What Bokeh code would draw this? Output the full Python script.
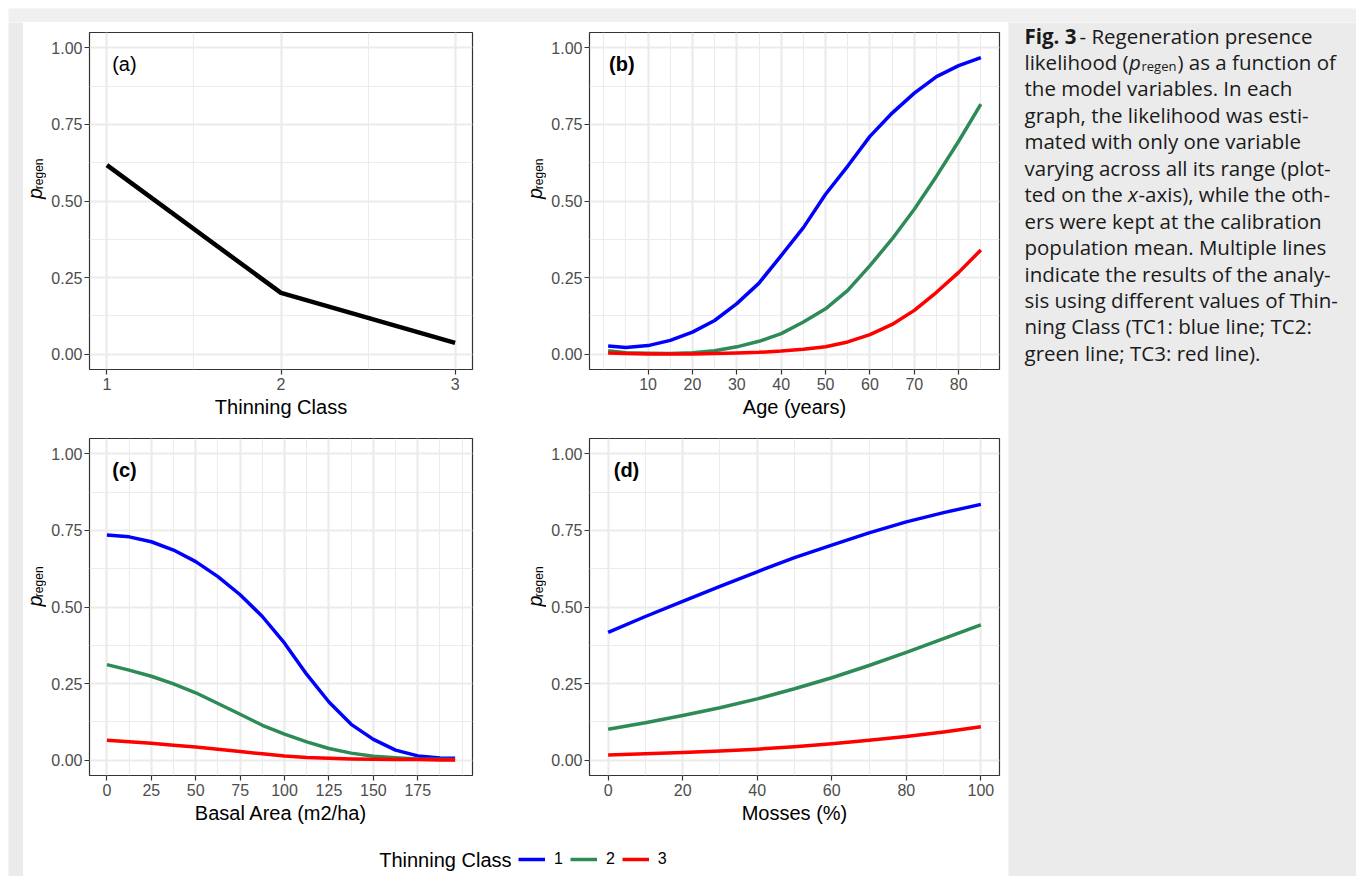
import math
import numpy as np
from bokeh.plotting import figure
from bokeh.layouts import column, row
from bokeh.models import Range1d, FixedTicker, Label, Legend, LegendItem
from bokeh.core.properties import value
from bokeh.embed import file_html
from bokeh.resources import INLINE

# ---------------- data ----------------
tc_classes = [1, 2, 3]
p_by_tc = [0.617, 0.200, 0.037]

age_years = [1, 5, 10, 15, 20, 25, 30, 35, 40, 45, 50, 55, 60, 65, 70, 75, 80, 85]
age_tc1 = [0.027, 0.022, 0.028, 0.045, 0.072, 0.110, 0.165, 0.232, 0.322, 0.413, 0.522, 0.614, 0.711, 0.787, 0.852, 0.906, 0.942, 0.968]
age_tc2 = [0.011, 0.005, 0.003, 0.002, 0.005, 0.011, 0.024, 0.042, 0.067, 0.105, 0.148, 0.208, 0.289, 0.376, 0.473, 0.581, 0.695, 0.816]
age_tc3 = [0.004, 0.002, 0.001, 0.001, 0.001, 0.002, 0.004, 0.006, 0.010, 0.016, 0.024, 0.040, 0.064, 0.097, 0.143, 0.202, 0.267, 0.340]

basal_area = [0, 12.5, 25, 37.5, 50, 62.5, 75, 87.5, 100, 112.5, 125, 137.5, 150, 162.5, 175, 187.5, 196]
ba_tc1 = [0.735, 0.729, 0.713, 0.686, 0.648, 0.599, 0.540, 0.469, 0.382, 0.280, 0.190, 0.117, 0.068, 0.033, 0.014, 0.007, 0.006]
ba_tc2 = [0.312, 0.294, 0.274, 0.249, 0.220, 0.185, 0.150, 0.114, 0.085, 0.060, 0.038, 0.023, 0.013, 0.008, 0.004, 0.003, 0.002]
ba_tc3 = [0.065, 0.060, 0.055, 0.049, 0.043, 0.036, 0.028, 0.021, 0.014, 0.009, 0.006, 0.004, 0.003, 0.002, 0.002, 0.001, 0.001]

mosses = [0, 10, 20, 30, 40, 50, 60, 70, 80, 90, 100]
mo_tc1 = [0.417, 0.469, 0.518, 0.567, 0.615, 0.661, 0.702, 0.742, 0.778, 0.808, 0.835]
mo_tc2 = [0.101, 0.122, 0.146, 0.171, 0.200, 0.233, 0.269, 0.309, 0.352, 0.397, 0.442]
mo_tc3 = [0.017, 0.021, 0.025, 0.030, 0.036, 0.044, 0.054, 0.065, 0.077, 0.092, 0.109]

series_names = ["1", "2", "3"]
series_colors = ["#0000ff", "#2e8b57", "#ff0000"]

y_ticks = [0, 0.25, 0.5, 0.75, 1.0]
y_tick_labels = ["0.00", "0.25", "0.50", "0.75", "1.00"]
y_minor = [0.125, 0.375, 0.625, 0.875]

a_ticks, a_labels, a_minor = [1, 2, 3], ["1", "2", "3"], [1.5, 2.5]
b_ticks = [10, 20, 30, 40, 50, 60, 70, 80]
b_labels = ["10", "20", "30", "40", "50", "60", "70", "80"]
b_minor = [0, 5, 15, 25, 35, 45, 55, 65, 75, 85]
c_ticks = [0, 25, 50, 75, 100, 125, 150, 175]
c_labels = ["0", "25", "50", "75", "100", "125", "150", "175"]
c_minor = [12.5, 37.5, 62.5, 87.5, 112.5, 137.5, 162.5, 187.5, 200]
d_ticks = [0, 20, 40, 60, 80, 100]
d_labels = ["0", "20", "40", "60", "80", "100"]
d_minor = [10, 30, 50, 70, 90]

x_titles = ["Thinning Class", "Age (years)", "Basal Area (m2/ha)", "Mosses (%)"]
y_title_main, y_title_sub = "p", "regen"
panel_tags = ["(a)", "(b)", "(c)", "(d)"]
legend_title = "Thinning Class"

caption_segments = [
    [("Fig. 3", "bold", 0), ("- Regeneration presence", "normal", 55)],
    [("likelihood (", "normal", 0), ("p", "italic", 104.5), ("regen", "sub", 117), (") as a function of", "normal", 153)],
    [("the model variables. In each", "normal", 0)],
    [("graph, the likelihood was esti-", "normal", 0)],
    [("mated with only one variable", "normal", 0)],
    [("varying across all its range (plot-", "normal", 0)],
    [("ted on the ", "normal", 0), ("x", "italic", 103.5), ("-axis), while the oth-", "normal", 114)],
    [("ers were kept at the calibration", "normal", 0)],
    [("population mean. Multiple lines", "normal", 0)],
    [("indicate the results of the analy-", "normal", 0)],
    [("sis using different values of Thin-", "normal", 0)],
    [("ning Class (TC1: blue line; TC2:", "normal", 0)],
    [("green line; TC3: red line).", "normal", 0)],
]

# ---------------- styling ----------------
FONT = "Liberation Sans"
CAP_FONT = "Open Sans"
GRID = "#ebebeb"
DARK = "#333333"
STRIP_LIGHT = "#f0f0f0"
STRIP_DARK = "#ebebeb"


def expand(lo, hi, f=0.05):
    d = (hi - lo) * f
    return lo - d, hi + d


def blank(w, h, col):
    return figure(width=w, height=h, x_axis_type=None, y_axis_type=None,
                  x_range=Range1d(0, w), y_range=Range1d(0, h),
                  output_backend="svg", toolbar_location=None, tools="", min_border=0,
                  background_fill_color=col, border_fill_color=col, outline_line_color=None)


def make_panel(xr, ticks, labels, minor, xtitle, tag, tag_x, tag_bold,
               w, h, bl, br, bt, bb):
    p = figure(width=w, height=h,
               x_range=Range1d(*xr), y_range=Range1d(-0.05, 1.05),
               output_backend="svg", toolbar_location=None, tools="",
               min_border_left=bl, min_border_right=br,
               min_border_top=bt, min_border_bottom=bb,
               background_fill_color="white", border_fill_color="white",
               outline_line_color=DARK, outline_line_width=1.2)
    xt = FixedTicker(ticks=ticks, minor_ticks=minor)
    yt = FixedTicker(ticks=y_ticks, minor_ticks=y_minor)
    p.xaxis.ticker = xt
    p.xgrid.ticker = xt
    p.yaxis.ticker = yt
    p.ygrid.ticker = yt
    p.xaxis.major_label_overrides = {t: l for t, l in zip(ticks, labels)}
    p.yaxis.major_label_overrides = {t: l for t, l in zip(y_ticks, y_tick_labels)}
    for g in (p.xgrid, p.ygrid):
        g.grid_line_color = GRID
        g.grid_line_width = 2.2
        g.minor_grid_line_color = GRID
        g.minor_grid_line_width = 1.1
    for ax in (p.xaxis, p.yaxis):
        ax.axis_line_color = None
        ax.major_tick_line_color = DARK
        ax.major_tick_line_width = 1.2
        ax.major_tick_in = 0
        ax.major_tick_out = 5
        ax.minor_tick_line_color = None
        ax.major_label_text_font = FONT
        ax.major_label_text_font_size = "16px"
        ax.major_label_text_color = "#4d4d4d"
    p.xaxis.major_label_standoff = 3
    p.yaxis.major_label_standoff = 2
    p.xaxis.axis_label = xtitle
    p.xaxis.axis_label_text_font = FONT
    p.xaxis.axis_label_text_font_size = "20px"
    p.xaxis.axis_label_text_font_style = "normal"
    p.xaxis.axis_label_text_color = "#000000"
    p.xaxis.axis_label_standoff = 3
    p.add_layout(Label(x=tag_x, y=0.948, text=tag, text_font=FONT,
                       text_font_size="20px",
                       text_font_style="bold" if tag_bold else "normal",
                       text_color="#000000", text_align="left",
                       text_baseline="middle"))
    return p


def ylabel_strip(w, h, center_up, xm):
    s = blank(w, h, "white")
    start = center_up - 18
    s.text(x=[xm], y=[start], text=[y_title_main], angle=math.pi / 2,
           text_font=value(FONT), text_font_size="19.5px", text_font_style="italic",
           text_color="#000000", text_align="left", text_baseline="middle")
    s.text(x=[xm + 4], y=[start + 11.5], text=[y_title_sub], angle=math.pi / 2,
           text_font=value(FONT), text_font_size="12px",
           text_color="#000000", text_align="left", text_baseline="middle")
    return s


ROW1_H, ROW2_H, LEG_H = 398, 410, 46
LW = 23
WA, WB = 477, 462

# panel (a)
fa = make_panel(expand(1, 3), a_ticks, a_labels, a_minor, x_titles[0], panel_tags[0], 1.03, False,
                WA, ROW1_H, 43, 51, 10, 51)
fa.line(tc_classes, p_by_tc, line_color="#000000", line_width=4.5, line_join="round")

# panel (b)
fb = make_panel(expand(1, 85), b_ticks, b_labels, b_minor, x_titles[1], panel_tags[1], 1.2, True,
                WB, ROW1_H, 43, 9, 10, 51)
for ys, c in zip([age_tc1, age_tc2, age_tc3], series_colors):
    fb.line(age_years, ys, line_color=c, line_width=3.5, line_join="round")

# panel (c)
fc = make_panel(expand(0, 196), c_ticks, c_labels, c_minor, x_titles[2], panel_tags[2], 3, True,
                WA, ROW2_H, 43, 51, 18, 55)
for ys, c in zip([ba_tc1, ba_tc2, ba_tc3], series_colors):
    fc.line(basal_area, ys, line_color=c, line_width=3.5, line_join="round")

# panel (d)
fd = make_panel(expand(0, 100), d_ticks, d_labels, d_minor, x_titles[3], panel_tags[3], 1.5, True,
                WB, ROW2_H, 43, 9, 18, 55)
for ys, c in zip([mo_tc1, mo_tc2, mo_tc3], series_colors):
    fd.line(mosses, ys, line_color=c, line_width=3.5, line_join="round")

yla = ylabel_strip(LW, ROW1_H, ROW1_H - 10 - 168.5, 11.5)
ylb = ylabel_strip(LW, ROW1_H, ROW1_H - 10 - 168.5, 11.5)
ylc = ylabel_strip(LW, ROW2_H, ROW2_H - 18 - 168.5, 11.5)
yld = ylabel_strip(LW, ROW2_H, ROW2_H - 18 - 168.5, 11.5)

# legend strip
LEG_W = 985
fl = blank(LEG_W, LEG_H, "white")
items = []
for name, c in zip(series_names, series_colors):
    r = fl.line(np.array([np.nan]), np.array([np.nan]), line_color=c, line_width=3.5)
    items.append(LegendItem(label=name, renderers=[r]))
leg = Legend(items=items, orientation="horizontal", location=(495, 7),
             glyph_width=27, glyph_height=20, label_standoff=9, spacing=7,
             padding=0, margin=0, border_line_color=None, background_fill_alpha=0,
             label_text_font=FONT, label_text_font_size="16px", label_text_color="#000000",
             label_height=20, label_width=0)
fl.add_layout(leg)
fl.add_layout(Label(x=488, y=17, text=legend_title, text_font=FONT,
                    text_font_size="20px", text_color="#000000",
                    text_align="right", text_baseline="middle"))

# caption panel
CAP_W, MID_H = 348, 854
fcap = figure(width=CAP_W, height=MID_H, x_range=Range1d(0, CAP_W), y_range=Range1d(MID_H, 0),
              x_axis_type=None, y_axis_type=None, output_backend="svg",
              toolbar_location=None, tools="", min_border=0,
              background_fill_color=STRIP_DARK, border_fill_color=STRIP_DARK,
              outline_line_color=None)
X0, B0, STEP = 16, 13, 26.45
for i, segs in enumerate(caption_segments):
    base = B0 + i * STEP
    for txt, style, dx in segs:
        size = "20.5px"
        fs = style
        yb = base
        if style == "sub":
            size = "13px"
            fs = "normal"
            yb = base + 4
        fcap.text(x=[X0 + dx], y=[yb], text=[txt], text_font=value(CAP_FONT),
                  text_font_size=size, text_font_style=fs, text_color="#1a1a1a",
                  text_align="left", text_baseline="alphabetic")

white_top = blank(1356, 8, "white")
white_left = blank(8, 872, "white")
top_strip = blank(1348, 14, STRIP_LIGHT)
bottom_strip = blank(1348, 4, STRIP_LIGHT)
left_strip = blank(15, MID_H, STRIP_DARK)

charts = column(row(yla, fa, ylb, fb), row(ylc, fc, yld, fd), fl)
inner = column(top_strip, row(left_strip, charts, fcap), bottom_strip)
layout = column(white_top, row(white_left, inner))

open("out.html", "w").write(file_html(layout, INLINE))
